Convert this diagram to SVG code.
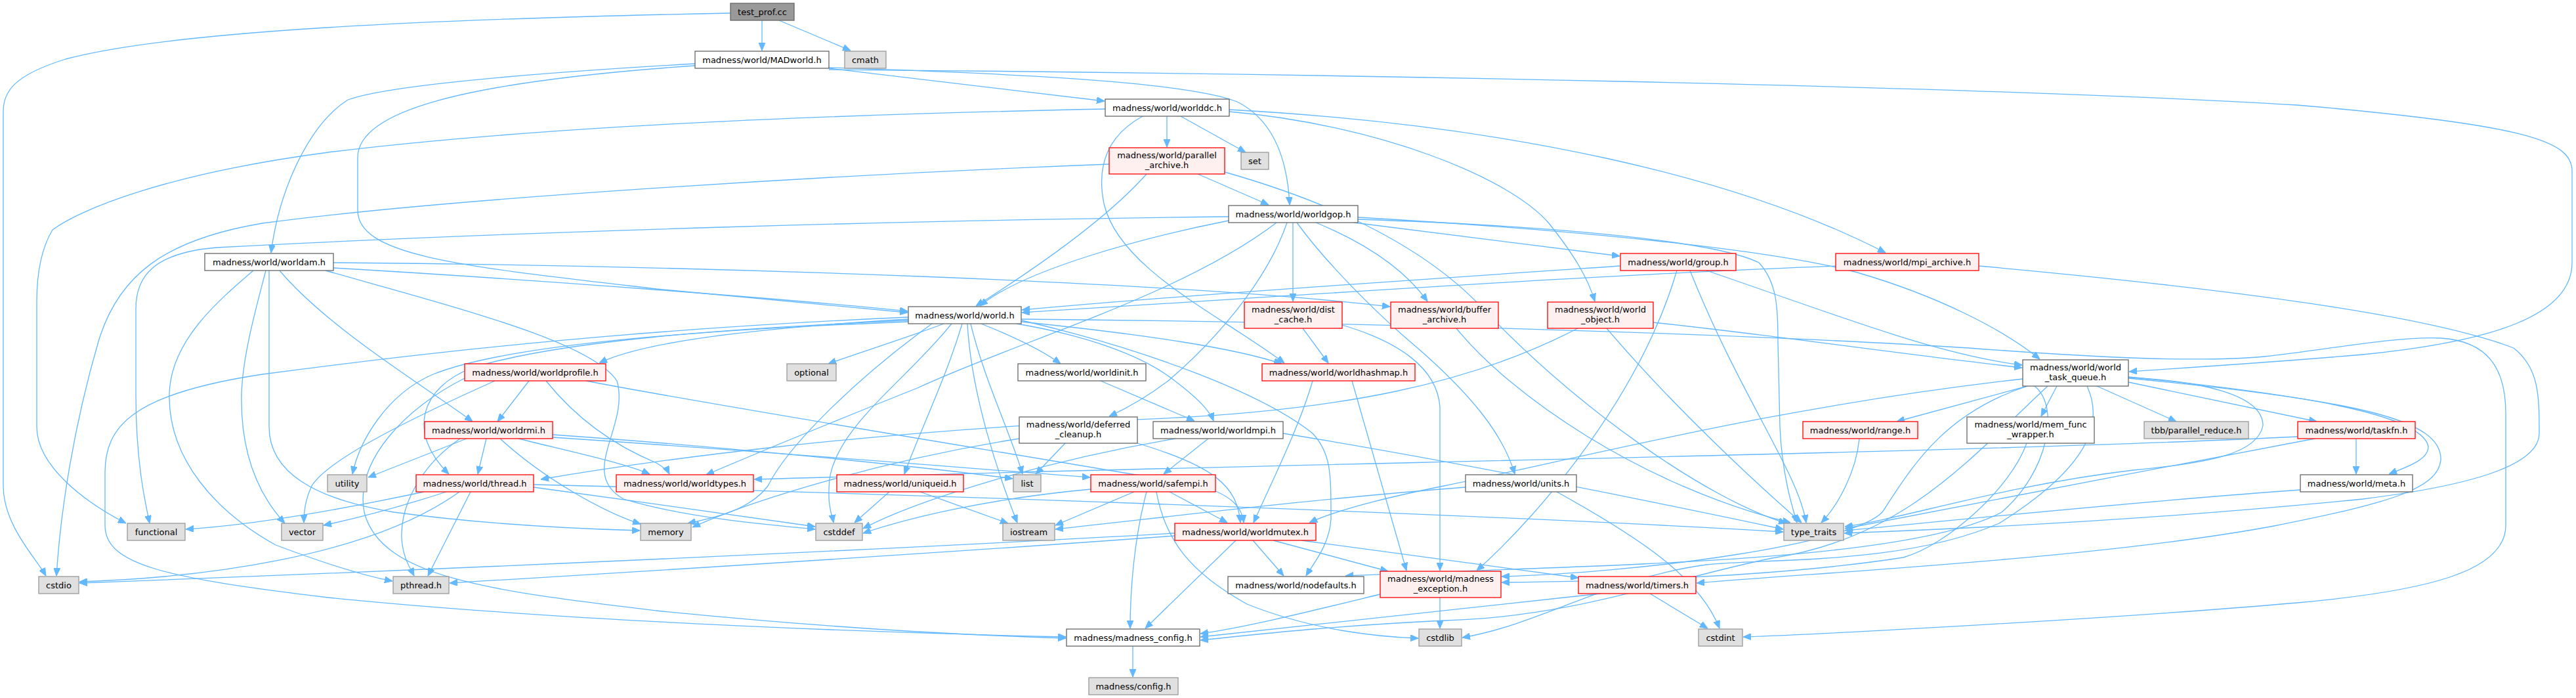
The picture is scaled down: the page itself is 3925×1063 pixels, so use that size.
<svg xmlns="http://www.w3.org/2000/svg" width="3925" height="1063" viewBox="0 0 3925 1063">
<style>
rect{stroke-width:1.3}
.w{fill:#ffffff;stroke:#666666}
.r{fill:#FFF0F0;stroke:#FF0000}
.g{fill:#E0E0E0;stroke:#999999}
.root{fill:#999999;stroke:#666666}
text{font-family:"DejaVu Sans",sans-serif;font-size:13px;text-anchor:middle;fill:#000000}
#edges path{fill:none;stroke:#63B8FF;stroke-width:1.3;marker-end:url(#arr)}
</style>
<defs>
<marker id="arr" viewBox="0 0 12 10" refX="12" refY="5" markerWidth="12" markerHeight="10" markerUnits="userSpaceOnUse" orient="auto">
<path d="M0,0 L12,5 L0,10 z" fill="#63B8FF" stroke="#63B8FF"/>
</marker>
</defs>
<rect x="0" y="0" width="3925" height="1063" fill="#ffffff" stroke="none"/>
<g id="edges">
<path d="M1161,31 L1161,77"/>
<path d="M1187,31 L1296,77"/>
<path d="M1113,20 C600,30 250,50 100,90 C20,115 5,140 5,170 L5,740 C5,800 55,850 70,877"/>
<path d="M1059,97 C800,112 590,130 530,152 C470,190 425,290 413,385"/>
<path d="M1059,100 C700,125 545,170 545,240 L545,320 C545,390 700,405 1000,440 C1180,458 1310,468 1383,476"/>
<path d="M1263,104 L1683,154"/>
<path d="M1263,103 C1550,112 1810,125 1885,155 C1945,185 1962,250 1965,312"/>
<path d="M1263,106 C2000,112 3000,130 3500,160 C3850,190 3919,215 3919,260 L3919,400 C3919,480 3800,520 3600,540 C3450,553 3300,562 3244,566"/>
<path d="M1684,166 C1200,176 800,195 500,232 C250,265 120,320 80,350 C62,380 56,420 56,460 L56,650 C56,710 130,765 192,797"/>
<path d="M1778,177 L1778,224"/>
<path d="M1799,177 L1898,232"/>
<path d="M1741,177 C1690,205 1670,250 1682,310 C1705,410 1860,480 1957,553"/>
<path d="M1873,170 C2100,190 2300,270 2360,340 C2400,390 2420,425 2430,459"/>
<path d="M1873,167 C2300,190 2650,270 2873,385"/>
<path d="M1690,250 C1300,265 700,300 400,340 C250,365 180,420 150,520 C112,650 92,780 86,877"/>
<path d="M1747,265 C1680,340 1560,420 1487,466"/>
<path d="M1825,265 L1933,312"/>
<path d="M1866,262 C2000,300 2150,360 2250,460 C2400,620 2600,760 2722,797"/>
<path d="M1872,330 C1400,335 800,352 330,377 C235,385 207,420 207,470 L207,600 C207,700 220,760 228,797"/>
<path d="M1872,336 C1750,360 1560,410 1493,466"/>
<path d="M1945,339 C1800,450 1550,520 1400,590 C1250,650 1130,700 1076,723"/>
<path d="M1961,339 C1930,430 1850,520 1780,580 C1740,610 1710,625 1690,634"/>
<path d="M1970,339 L1970,459"/>
<path d="M2005,339 C2080,370 2140,410 2175,459"/>
<path d="M2063,339 L2468,390"/>
<path d="M2069,331 C2400,350 2700,380 2830,415 C2950,450 3050,500 3108,547"/>
<path d="M2069,334 C2400,345 2620,370 2680,400 C2708,430 2709,470 2709,520 L2712,650 C2715,720 2730,770 2738,796"/>
<path d="M1976,339 C2020,400 2100,480 2160,530 C2240,600 2290,660 2308,722"/>
<path d="M508,408 C800,425 1200,455 1383,474"/>
<path d="M508,400 C1100,405 1800,430 2118,467"/>
<path d="M426,412 C500,500 650,590 720,642"/>
<path d="M405,412 C390,470 370,540 368,600 C366,700 400,760 434,797"/>
<path d="M410,412 L410,650 C410,720 480,760 600,780 C750,800 900,806 975,808"/>
<path d="M386,412 C330,460 260,520 258,600 C256,700 330,780 420,830 C500,860 560,878 598,885"/>
<path d="M496,412 C700,470 900,520 940,580 C960,650 880,720 950,760 C1050,790 1180,800 1242,806"/>
<path d="M1384,486 C1150,500 980,520 913,553"/>
<path d="M1384,488 C1100,500 850,520 720,560 C640,590 620,660 684,722"/>
<path d="M1384,490 C1000,505 760,530 660,570 C590,600 548,670 537,722"/>
<path d="M1384,483 C1000,500 700,530 400,570 C200,600 160,650 160,720 L160,800 C160,860 250,880 500,910 C900,950 1400,965 1624,970"/>
<path d="M1438,493 C1380,515 1300,540 1262,554"/>
<path d="M1450,493 C1380,580 1275,650 1264,730 C1260,770 1268,785 1270,796"/>
<path d="M1466,493 C1440,580 1400,660 1378,722"/>
<path d="M1479,493 C1500,580 1540,660 1558,722"/>
<path d="M1474,493 C1480,600 1520,720 1550,796"/>
<path d="M1495,493 C1550,515 1590,535 1616,554"/>
<path d="M1549,493 C1650,510 1740,540 1790,580 C1830,610 1845,630 1849,641"/>
<path d="M1556,490 C1750,510 1880,530 1953,554"/>
<path d="M1556,486 C2000,490 2600,505 3000,530 C3200,545 3350,552 3450,543 C3550,532 3650,512 3720,515 C3790,520 3818,560 3818,630 L3818,800 C3818,870 3700,900 3500,918 C3250,940 2800,965 2656,970"/>
<path d="M1557,488 C1750,533 1925,600 2000,660 C2028,690 2028,720 2028,790 C2026,830 2000,860 1990,877"/>
<path d="M1420,493 C1300,580 1200,680 1170,740 C1140,780 1080,790 1048,797"/>
<path d="M754,580 C620,640 500,700 475,740 C465,760 463,780 463,796"/>
<path d="M806,580 L758,642"/>
<path d="M832,580 C880,640 940,680 1000,705 C1012,712 1018,718 1020,722"/>
<path d="M893,580 C1100,620 1600,700 1830,740 C1880,755 1893,775 1895,796"/>
<path d="M708,576 C620,620 540,700 555,780 C580,880 750,900 1000,930 C1300,960 1500,968 1624,972"/>
<path d="M701,668 C640,710 610,770 612,820 C614,850 625,865 631,877"/>
<path d="M711,668 L561,727"/>
<path d="M741,668 L728,722"/>
<path d="M762,668 C830,730 920,780 976,798"/>
<path d="M790,668 C880,690 950,705 990,722"/>
<path d="M842,662 C1100,680 1400,710 1543,729"/>
<path d="M842,666 C1200,690 1500,715 1661,727"/>
<path d="M646,749 C500,780 380,800 283,806"/>
<path d="M680,749 C600,775 540,790 493,800"/>
<path d="M700,749 C560,850 300,880 121,886"/>
<path d="M717,749 L652,877"/>
<path d="M813,742 C950,760 1150,790 1242,802"/>
<path d="M813,738 C1300,750 2200,780 2717,810"/>
<path d="M1355,749 L1302,796"/>
<path d="M1402,749 L1536,797"/>
<path d="M1623,675 L1578,722"/>
<path d="M1553,668 C1350,700 1150,760 1055,803"/>
<path d="M1733,675 C1850,710 1885,740 1890,796"/>
<path d="M1677,580 L1820,641"/>
<path d="M1841,668 L1773,722"/>
<path d="M1791,668 C1600,700 1400,760 1315,805"/>
<path d="M1955,660 C2200,700 2500,760 2717,806"/>
<path d="M1728,749 L1608,800"/>
<path d="M1747,749 C1728,820 1722,900 1722,957"/>
<path d="M1762,749 C1775,820 1810,870 1900,920 C2000,960 2100,970 2161,972"/>
<path d="M1782,749 L1870,796"/>
<path d="M1662,745 C1500,760 1380,790 1315,812"/>
<path d="M2233,742 C2000,760 1800,785 1608,806"/>
<path d="M2372,749 C2500,820 2590,880 2620,957"/>
<path d="M1790,812 C1300,840 600,870 121,888"/>
<path d="M1790,816 C1400,845 900,875 685,888"/>
<path d="M1883,823 L1745,957"/>
<path d="M1909,823 L1956,877"/>
<path d="M1940,823 L2115,870"/>
<path d="M1983,823 L2405,880"/>
<path d="M2000,580 C1980,650 1935,740 1910,796"/>
<path d="M2060,580 L2143,869"/>
<path d="M1985,500 L2024,553"/>
<path d="M2045,495 C2130,520 2190,560 2194,620 L2194,869"/>
<path d="M2219,500 C2300,600 2500,740 2728,796"/>
<path d="M2404,500 C2250,580 2050,630 1700,640 C1300,660 1000,700 824,730"/>
<path d="M2448,500 C2550,620 2680,740 2745,796"/>
<path d="M2519,491 C2700,510 2900,540 3081,560"/>
<path d="M2469,405 C2100,430 1800,450 1557,472"/>
<path d="M2555,412 C2500,600 2350,780 2250,869"/>
<path d="M2575,412 C2650,600 2740,720 2752,796"/>
<path d="M2600,412 C2800,480 2950,540 3081,556"/>
<path d="M2797,405 C2400,420 1900,455 1557,476"/>
<path d="M3015,405 C3400,440 3700,480 3830,530 C3868,560 3869,600 3869,660 C3869,710 3760,740 3600,760 C3300,790 3000,805 2810,812"/>
<path d="M3082,577 C2700,620 2400,700 2200,740 C2100,760 2030,780 1995,796"/>
<path d="M3089,588 L2890,642"/>
<path d="M3134,588 L3110,634"/>
<path d="M3195,588 L3316,642"/>
<path d="M3243,582 L3530,642"/>
<path d="M3243,574 C3500,600 3690,630 3700,680 C3700,700 3670,710 3640,722"/>
<path d="M3243,575 C3350,580 3448,600 3448,648 C3440,690 3370,705 3250,716 C3050,740 2900,790 2811,802"/>
<path d="M3243,576 C3600,610 3720,640 3719,700 C3715,745 3640,766 3465,801 C3200,850 2800,870 2585,888"/>
<path d="M3089,588 C2960,630 2912,713 2868,780 C2820,830 2500,872 2288,878"/>
<path d="M3100,588 C3140,620 3120,720 3050,780 C2900,860 2400,860 2050,877"/>
<path d="M3180,588 C3207,647 3180,713 3046,797 C2900,860 2700,850 2600,860 C2450,880 2350,950 2228,971"/>
<path d="M3120,588 C3000,700 2900,820 2700,850 C2550,880 2400,940 2200,945 C2000,955 1900,968 1829,975"/>
<path d="M3088,675 C3063,745 2965,831 2900,849 C2700,880 2450,885 2288,887"/>
<path d="M3590,668 L3590,722"/>
<path d="M3501,665 C3000,690 2000,705 1149,730"/>
<path d="M3527,668 C3300,710 3000,770 2811,805"/>
<path d="M3505,746 C3300,760 3000,790 2811,808"/>
<path d="M2833,668 C2828,720 2800,770 2775,796"/>
<path d="M2439,904 C2200,930 1950,955 1829,970"/>
<path d="M2514,904 L2602,957"/>
<path d="M2103,905 C2000,930 1900,955 1829,965"/>
<path d="M2194,910 L2194,957"/>
<path d="M1726,984 L1726,1031"/>
</g>
<g id="n-test_prof"><rect class="root" x="1113" y="5" width="97" height="26"/><text x="1161.5" y="22.5">test_prof.cc</text></g>
<g id="n-madworld"><rect class="w" x="1059" y="78" width="204" height="26"/><text x="1161" y="95.5">madness/world/MADworld.h</text></g>
<g id="n-cmath"><rect class="g" x="1287" y="78" width="63" height="26"/><text x="1318.5" y="95.5">cmath</text></g>
<g id="n-worlddc"><rect class="w" x="1684" y="151" width="189" height="26"/><text x="1778.5" y="168.5">madness/world/worlddc.h</text></g>
<g id="n-parallel_archive"><rect class="r" x="1690" y="225" width="176" height="40"/><text x="1778" y="241">madness/world/parallel</text><text x="1778" y="256">_archive.h</text></g>
<g id="n-set"><rect class="g" x="1891" y="232" width="42" height="26"/><text x="1912" y="249.5">set</text></g>
<g id="n-worldgop"><rect class="w" x="1872" y="313" width="197" height="26"/><text x="1970.5" y="330.5">madness/world/worldgop.h</text></g>
<g id="n-worldam"><rect class="w" x="312" y="386" width="196" height="26"/><text x="410" y="403.5">madness/world/worldam.h</text></g>
<g id="n-group"><rect class="r" x="2469" y="386" width="176" height="26"/><text x="2557" y="403.5">madness/world/group.h</text></g>
<g id="n-mpi_archive"><rect class="r" x="2797" y="386" width="218" height="26"/><text x="2906" y="403.5">madness/world/mpi_archive.h</text></g>
<g id="n-world"><rect class="w" x="1384" y="467" width="172" height="26"/><text x="1470" y="484.5">madness/world/world.h</text></g>
<g id="n-dist_cache"><rect class="r" x="1896" y="460" width="149" height="40"/><text x="1970.5" y="476">madness/world/dist</text><text x="1970.5" y="491">_cache.h</text></g>
<g id="n-buffer_archive"><rect class="r" x="2119" y="460" width="164" height="40"/><text x="2201" y="476">madness/world/buffer</text><text x="2201" y="491">_archive.h</text></g>
<g id="n-world_object"><rect class="r" x="2358" y="460" width="161" height="40"/><text x="2438.5" y="476">madness/world/world</text><text x="2438.5" y="491">_object.h</text></g>
<g id="n-worldprofile"><rect class="r" x="708" y="554" width="215" height="26"/><text x="815.5" y="571.5">madness/world/worldprofile.h</text></g>
<g id="n-optional"><rect class="g" x="1199" y="554" width="75" height="26"/><text x="1236.5" y="571.5">optional</text></g>
<g id="n-worldinit"><rect class="w" x="1551" y="554" width="195" height="26"/><text x="1648.5" y="571.5">madness/world/worldinit.h</text></g>
<g id="n-worldhashmap"><rect class="r" x="1923" y="554" width="233" height="26"/><text x="2039.5" y="571.5">madness/world/worldhashmap.h</text></g>
<g id="n-world_task_queue"><rect class="w" x="3082" y="548" width="161" height="40"/><text x="3162.5" y="564">madness/world/world</text><text x="3162.5" y="579">_task_queue.h</text></g>
<g id="n-worldrmi"><rect class="r" x="647" y="642" width="195" height="26"/><text x="744.5" y="659.5">madness/world/worldrmi.h</text></g>
<g id="n-deferred_cleanup"><rect class="w" x="1553" y="635" width="180" height="40"/><text x="1643" y="651">madness/world/deferred</text><text x="1643" y="666">_cleanup.h</text></g>
<g id="n-worldmpi"><rect class="w" x="1757" y="642" width="198" height="26"/><text x="1856" y="659.5">madness/world/worldmpi.h</text></g>
<g id="n-range"><rect class="r" x="2747" y="642" width="175" height="26"/><text x="2834.5" y="659.5">madness/world/range.h</text></g>
<g id="n-mem_func_wrapper"><rect class="w" x="2997" y="635" width="194" height="40"/><text x="3094" y="651">madness/world/mem_func</text><text x="3094" y="666">_wrapper.h</text></g>
<g id="n-tbb"><rect class="g" x="3267" y="642" width="159" height="26"/><text x="3346.5" y="659.5">tbb/parallel_reduce.h</text></g>
<g id="n-taskfn"><rect class="r" x="3501" y="642" width="179" height="26"/><text x="3590.5" y="659.5">madness/world/taskfn.h</text></g>
<g id="n-utility"><rect class="g" x="499" y="723" width="60" height="26"/><text x="529" y="740.5">utility</text></g>
<g id="n-thread"><rect class="r" x="634" y="723" width="179" height="26"/><text x="723.5" y="740.5">madness/world/thread.h</text></g>
<g id="n-worldtypes"><rect class="r" x="939" y="723" width="209" height="26"/><text x="1043.5" y="740.5">madness/world/worldtypes.h</text></g>
<g id="n-uniqueid"><rect class="r" x="1275" y="723" width="193" height="26"/><text x="1371.5" y="740.5">madness/world/uniqueid.h</text></g>
<g id="n-list"><rect class="g" x="1544" y="723" width="42" height="26"/><text x="1565" y="740.5">list</text></g>
<g id="n-safempi"><rect class="r" x="1662" y="723" width="190" height="26"/><text x="1757" y="740.5">madness/world/safempi.h</text></g>
<g id="n-units"><rect class="w" x="2233" y="723" width="169" height="26"/><text x="2317.5" y="740.5">madness/world/units.h</text></g>
<g id="n-meta"><rect class="w" x="3505" y="723" width="171" height="26"/><text x="3590.5" y="740.5">madness/world/meta.h</text></g>
<g id="n-functional"><rect class="g" x="194" y="797" width="88" height="26"/><text x="238" y="814.5">functional</text></g>
<g id="n-vector"><rect class="g" x="429" y="797" width="63" height="26"/><text x="460.5" y="814.5">vector</text></g>
<g id="n-memory"><rect class="g" x="976" y="797" width="77" height="26"/><text x="1014.5" y="814.5">memory</text></g>
<g id="n-cstddef"><rect class="g" x="1243" y="797" width="71" height="26"/><text x="1278.5" y="814.5">cstddef</text></g>
<g id="n-iostream"><rect class="g" x="1528" y="797" width="79" height="26"/><text x="1567.5" y="814.5">iostream</text></g>
<g id="n-worldmutex"><rect class="r" x="1790" y="797" width="215" height="26"/><text x="1897.5" y="814.5">madness/world/worldmutex.h</text></g>
<g id="n-type_traits"><rect class="g" x="2718" y="797" width="91" height="26"/><text x="2763.5" y="814.5">type_traits</text></g>
<g id="n-cstdio"><rect class="g" x="59" y="878" width="61" height="26"/><text x="89.5" y="895.5">cstdio</text></g>
<g id="n-pthread"><rect class="g" x="599" y="878" width="85" height="26"/><text x="641.5" y="895.5">pthread.h</text></g>
<g id="n-nodefaults"><rect class="w" x="1871" y="878" width="207" height="26"/><text x="1974.5" y="895.5">madness/world/nodefaults.h</text></g>
<g id="n-madness_exception"><rect class="r" x="2103" y="870" width="184" height="40"/><text x="2195" y="886">madness/world/madness</text><text x="2195" y="901">_exception.h</text></g>
<g id="n-timers"><rect class="r" x="2405" y="878" width="179" height="26"/><text x="2494.5" y="895.5">madness/world/timers.h</text></g>
<g id="n-madness_config"><rect class="w" x="1625" y="958" width="203" height="26"/><text x="1726.5" y="975.5">madness/madness_config.h</text></g>
<g id="n-cstdlib"><rect class="g" x="2162" y="958" width="65" height="26"/><text x="2194.5" y="975.5">cstdlib</text></g>
<g id="n-cstdint"><rect class="g" x="2588" y="958" width="67" height="26"/><text x="2621.5" y="975.5">cstdint</text></g>
<g id="n-config"><rect class="g" x="1659" y="1032" width="136" height="26"/><text x="1727" y="1049.5">madness/config.h</text></g>
</svg>
